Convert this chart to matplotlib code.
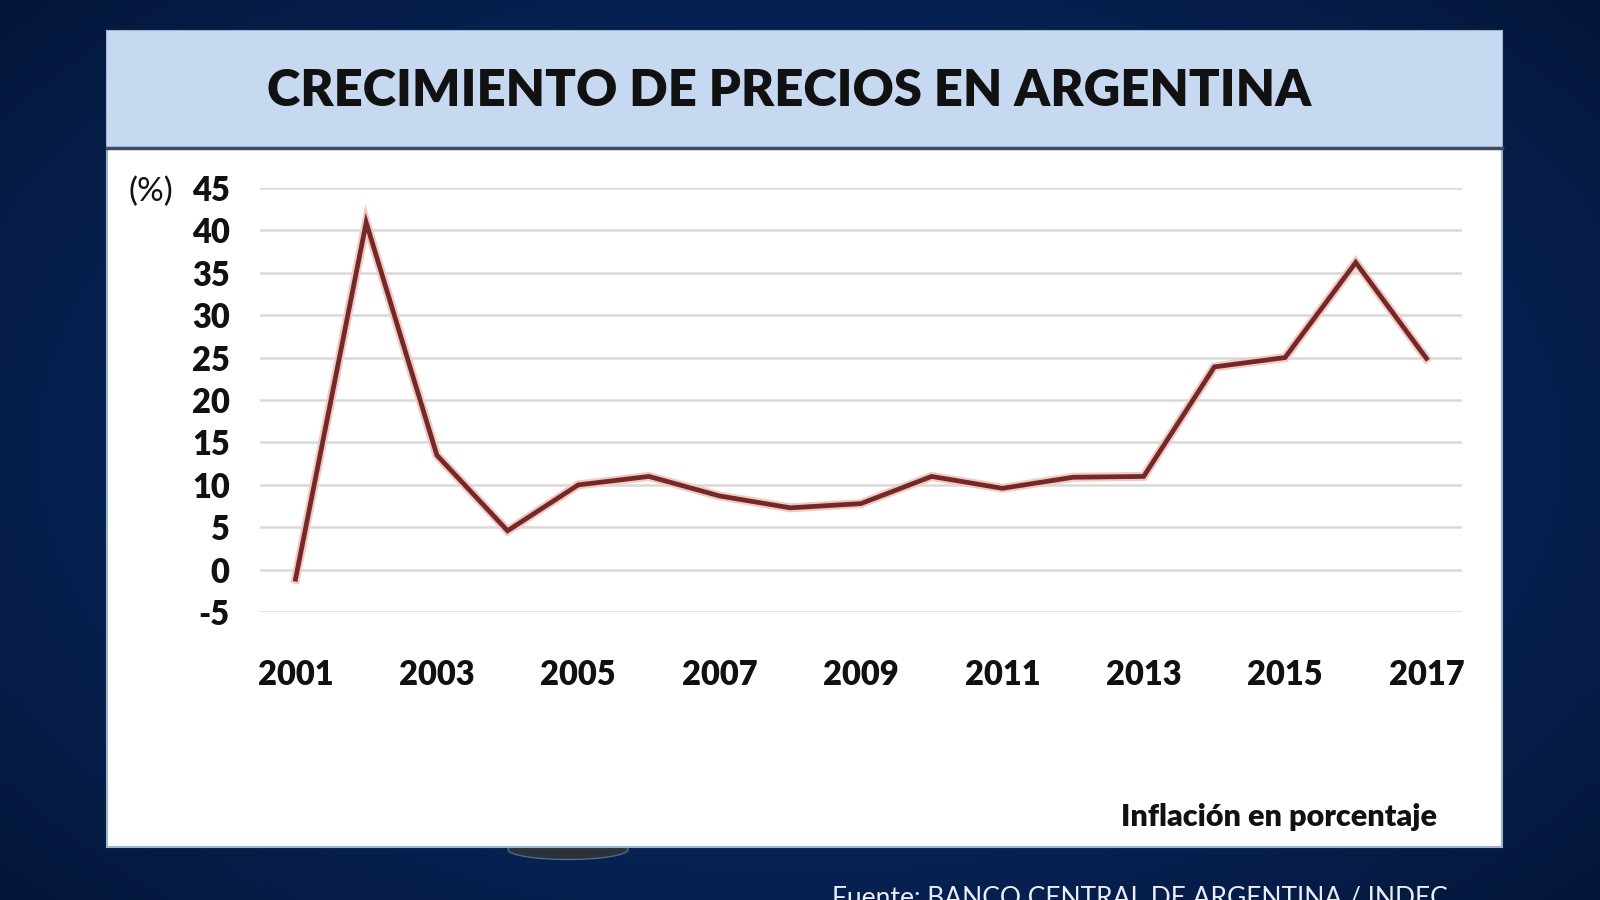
import numpy as np
import matplotlib.pyplot as plt
import matplotlib.patheffects as pe
from matplotlib.patches import Rectangle, Ellipse

# inflation values
years = list(range(2001, 2018))
inflation = [-1.1, 40.9, 13.5, 4.6, 10.0, 11.0, 8.7, 7.3, 7.8, 11.0,
             9.6, 10.9, 11.0, 23.9, 25.0, 36.2, 24.9]
year_ticks = list(range(2001, 2018, 2))
pct_ticks = list(range(-5, 46, 5))

title = 'CRECIMIENTO DE PRECIOS EN ARGENTINA'
note = 'Inflación en porcentaje'
source = 'Fuente: BANCO CENTRAL DE ARGENTINA / INDEC'

plt.rcParams['font.family'] = ['Lato', 'DejaVu Sans']
plt.rcParams['axes.unicode_minus'] = False

fig = plt.figure(figsize=(16, 9), dpi=100)

# dark blue background with a soft radial glow
bg = fig.add_axes([0, 0, 1, 1], zorder=-10)
xx, yy = np.meshgrid(np.linspace(-1, 1, 400), np.linspace(-1, 1, 225))
r = np.sqrt(xx**2 + (yy * 0.9)**2)
bg.imshow(r, cmap=plt.matplotlib.colors.LinearSegmentedColormap.from_list(
    'navy', ['#0d3275', '#08245a', '#041637']), extent=[0, 1, 0, 1],
    aspect='auto', vmin=0, vmax=1.4)
bg.set_xlim(0, 1)
bg.set_ylim(0, 1)
bg.axis('off')

# white panel + light blue header
bg.add_patch(Rectangle((0.067, 0.059), 0.872, 0.907, facecolor='white',
                       edgecolor='#9fb3cf', lw=1.5, zorder=2))
bg.add_patch(Rectangle((0.067, 0.836), 0.872, 0.130, facecolor='#c6d9f0',
                       edgecolor='none', zorder=3))
bg.plot([0.067, 0.939], [0.836, 0.836], color='#3d4c62', lw=2.5, zorder=4)
bg.add_patch(Ellipse((0.355, 0.056), 0.075, 0.022, facecolor='#2b3138',
                     edgecolor='#4f6a8f', lw=1, zorder=1))

fig.text(0.493, 0.899, title, ha='center', va='center', fontsize=36.5,
         fontweight='heavy', color='#111111')
fig.text(0.898, 0.092, note, ha='right', va='center', fontsize=22,
         fontweight='heavy', color='#111111')
fig.text(0.52, 0.002, source, ha='left', va='center', fontsize=19,
         color='#e8eef7')

ax = fig.add_axes([0.1626, 0.3197, 0.751, 0.4717])
ax.set_facecolor('none')
ax.plot(years, inflation, color='#722928', lw=3.4, solid_joinstyle='miter',
        path_effects=[pe.Stroke(linewidth=6.5, foreground='#f3c9c3'),
                      pe.Normal()], zorder=3)
ax.set_xlim(2000.5, 2017.5)
ax.set_ylim(-5, 45)
ax.set_xticks(year_ticks)
ax.set_yticks(pct_ticks)
ax.grid(axis='y', color='#d9d9d9', lw=1.8)
ax.tick_params(length=0)
ax.tick_params(axis='x', pad=34, labelsize=23.5)
ax.tick_params(axis='y', pad=22, labelsize=23.5)
for lab in ax.get_xticklabels() + ax.get_yticklabels():
    lab.set_fontweight('heavy')
    lab.set_color('#111111')
for s in ax.spines.values():
    s.set_visible(False)

fig.text(0.094, 0.787, '(%)', ha='center', va='center', fontsize=24,
         color='#111111')

fig.savefig('out.png', dpi=100)
